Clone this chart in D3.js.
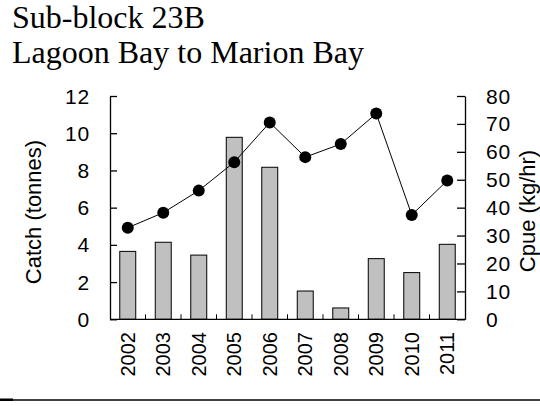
<!DOCTYPE html>
<html>
<head>
<meta charset="utf-8">
<script src="https://cdn.jsdelivr.net/npm/d3@7"></script>
<style>
  html, body { margin: 0; padding: 0; background: #fff; }
  svg { display: block; }
</style>
</head>
<body>
<svg id="chart" width="540" height="406"></svg>
<script>
const years = ["2002","2003","2004","2005","2006","2007","2008","2009","2010","2011"];
const catchTonnes = [3.65, 4.14, 3.45, 9.78, 8.17, 1.52, 0.61, 3.26, 2.51, 4.03];
const cpue = [32.8, 38.2, 46.1, 56.3, 70.5, 58.1, 62.8, 73.7, 37.4, 49.7];
const catchTicks = [0, 2, 4, 6, 8, 10, 12];
const cpueTicks = [0, 10, 20, 30, 40, 50, 60, 70, 80];
const titleLines = ["Sub-block 23B", "Lagoon Bay to Marion Bay"];

const svg = d3.select("#chart");
const plotLeft = 110, plotRight = 465, plotTop = 96, plotBottom = 319.3;
const sans = "Arial, 'Liberation Sans', Helvetica, sans-serif";
const serif = "'Times New Roman', 'Liberation Serif', Times, serif";

const x = d3.scaleBand().domain(years).range([plotLeft, plotRight]).paddingInner(0.55).paddingOuter(0.275);
const xb = d3.scaleBand().domain(years).range([plotLeft, plotRight]);
const yL = d3.scaleLinear().domain([0, 12]).range([plotBottom, plotTop]);
const yR = d3.scaleLinear().domain([0, 80]).range([plotBottom, plotTop]);

// Title
svg.selectAll("text.title").data(titleLines).join("text")
  .attr("class", "title")
  .attr("x", 12)
  .attr("y", (d, i) => 28 + i * 35)
  .attr("font-family", serif)
  .attr("font-size", 32)
  .attr("fill", "#000")
  .text(d => d);

// Bars
svg.append("g").selectAll("rect").data(years).join("rect")
  .attr("x", d => x(d))
  .attr("width", x.bandwidth())
  .attr("y", (d, i) => yL(catchTonnes[i]))
  .attr("height", (d, i) => yL(0) - yL(catchTonnes[i]))
  .attr("fill", "#c0c0c0")
  .attr("stroke", "#000")
  .attr("stroke-width", 1);

// Line
const line = d3.line()
  .x((d, i) => xb(years[i]) + xb.bandwidth() / 2)
  .y(d => yR(d));
svg.append("path").datum(cpue)
  .attr("d", line)
  .attr("fill", "none")
  .attr("stroke", "#000")
  .attr("stroke-width", 1);
svg.append("g").selectAll("circle").data(cpue).join("circle")
  .attr("cx", (d, i) => xb(years[i]) + xb.bandwidth() / 2)
  .attr("cy", d => yR(d))
  .attr("r", 6)
  .attr("fill", "#000");

// Left axis
const gL = svg.append("g").attr("transform", `translate(${plotLeft},0)`)
  .call(d3.axisRight(yL).tickValues(catchTicks).tickSize(7).tickSizeOuter(0).tickFormat(d3.format("d")));
gL.selectAll("text").remove();
svg.append("g").selectAll("text").data(catchTicks).join("text")
  .attr("x", 90).attr("y", d => yL(d)).attr("dy", "0.36em")
  .attr("text-anchor", "end").attr("font-family", sans).attr("font-size", 21)
  .attr("letter-spacing", 0.8)
  .text(d => d);

// Right axis
const gR = svg.append("g").attr("transform", `translate(${plotRight},0)`)
  .call(d3.axisLeft(yR).tickValues(cpueTicks).tickSize(8).tickSizeOuter(0));
gR.selectAll("text").remove();
svg.append("g").selectAll("text").data(cpueTicks).join("text")
  .attr("x", 486).attr("y", d => yR(d)).attr("dy", "0.36em")
  .attr("text-anchor", "start").attr("font-family", sans).attr("font-size", 21)
  .attr("letter-spacing", 0.8)
  .text(d => d);

// Bottom axis
svg.append("line").attr("x1", plotLeft).attr("x2", plotRight).attr("y1", plotBottom).attr("y2", plotBottom)
  .attr("stroke", "#000").attr("stroke-width", 1.3);
svg.append("g").selectAll("line").data(years.slice(1)).join("line")
  .attr("x1", d => xb(d)).attr("x2", d => xb(d))
  .attr("y1", plotBottom).attr("y2", plotBottom - 5)
  .attr("stroke", "#000").attr("stroke-width", 1);
svg.append("g").selectAll("text").data(years).join("text")
  .attr("transform", d => `translate(${xb(d) + xb.bandwidth() / 2 + 7},332) rotate(-90)`)
  .attr("text-anchor", "end").attr("font-family", sans).attr("font-size", 20)
  .text(d => d);

[gL, gR].forEach(g => {
  g.selectAll("path, line").attr("stroke", "#000").attr("stroke-width", 1.3);
});

// Axis titles
svg.append("text")
  .attr("transform", `translate(41,212) rotate(-90)`)
  .attr("text-anchor", "middle").attr("font-family", sans).attr("font-size", 22)
  .text("Catch (tonnes)");
svg.append("text")
  .attr("transform", `translate(535,211) rotate(-90)`)
  .attr("text-anchor", "middle").attr("font-family", sans).attr("font-size", 22)
  .text("Cpue (kg/hr)");

// Bottom rule
svg.append("line").attr("x1", 0).attr("x2", 540).attr("y1", 400).attr("y2", 400)
  .attr("stroke", "#000").attr("stroke-width", 1.5);
svg.append("rect").attr("x", 0).attr("y", 398.5).attr("width", 13).attr("height", 2.5).attr("fill", "#000");
</script>
</body>
</html>
